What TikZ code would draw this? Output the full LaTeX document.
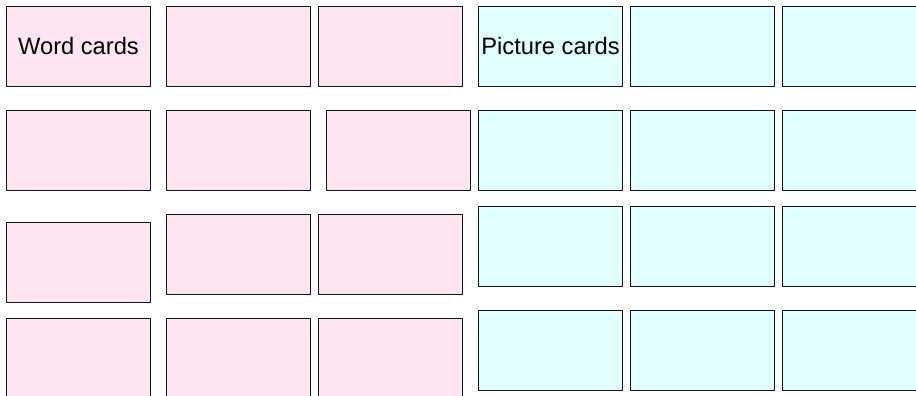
\documentclass[tikz,border=0pt]{standalone}
\usepackage{fontspec}
\setmainfont{Liberation Sans}
\definecolor{CardPink}{RGB}{255,228,242}
\definecolor{CardCyan}{RGB}{224,253,255}
\definecolor{CardEdge}{RGB}{20,20,20}

\begin{document}
\begin{tikzpicture}[
  x=0.5pt, y=-0.5pt,
  card/.style={draw=CardEdge, line width=0.6pt, anchor=north west, outer sep=0pt, inner sep=0pt,
    minimum width=72pt, minimum height=40pt, font=\fontsize{11.85}{14}\selectfont},
  wordcard/.style={card, fill=CardPink},
  piccard/.style={card, fill=CardCyan}
]
  \useasboundingbox (0,0) rectangle (916,396);
  \clip (0,0) rectangle (916,396);

  % Word cards
  \node[wordcard] (w11) at (6.5,6.3) {Word cards};
  \node[wordcard] (w12) at (166.5,6.3) {};
  \node[wordcard] (w13) at (318.5,6.3) {};
  \node[wordcard] (w21) at (6.5,110.5) {};
  \node[wordcard] (w22) at (166.5,110.5) {};
  \node[wordcard] (w23) at (326.5,110.5) {};
  \node[wordcard] (w31) at (6.5,222.5) {};
  \node[wordcard] (w32) at (166.5,214.5) {};
  \node[wordcard] (w33) at (318.5,214.5) {};
  \node[wordcard] (w41) at (6.5,318.5) {};
  \node[wordcard] (w42) at (166.5,318.5) {};
  \node[wordcard] (w43) at (318.5,318.5) {};

  % Picture cards
  \node[piccard] (p11) at (478.5,6.3) {Picture cards};
  \node[piccard] (p12) at (630.5,6.3) {};
  \node[piccard] (p13) at (782.5,6.3) {};
  \node[piccard] (p21) at (478.5,110.5) {};
  \node[piccard] (p22) at (630.5,110.5) {};
  \node[piccard] (p23) at (782.5,110.5) {};
  \node[piccard] (p31) at (478.5,206.5) {};
  \node[piccard] (p32) at (630.5,206.5) {};
  \node[piccard] (p33) at (782.5,206.5) {};
  \node[piccard] (p41) at (478.5,310.5) {};
  \node[piccard] (p42) at (630.5,310.5) {};
  \node[piccard] (p43) at (782.5,310.5) {};
\end{tikzpicture}
\end{document}
